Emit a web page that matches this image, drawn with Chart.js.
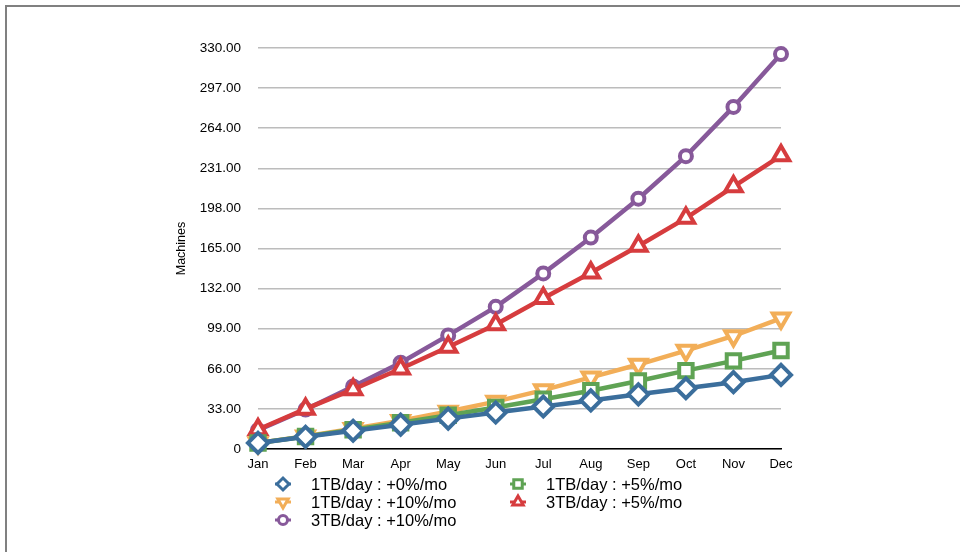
<!DOCTYPE html>
<html>
<head>
<meta charset="utf-8">
<script src="https://cdn.jsdelivr.net/npm/chart.js@4/dist/chart.umd.min.js"></script>
<style>
	html, body { margin: 0; padding: 0; background: #fff; }
	#wrap { position: relative; width: 960px; height: 552px; }
	#frame { position: absolute; left: 5px; top: 5px; right: 0; bottom: 0;
		border-top: 2px solid #808080; border-left: 2px solid #808080; }
	canvas { position: absolute; left: 0; top: 0; }
</style>
</head>
<body>
<div id="wrap">
	<div id="frame"></div>
	<canvas id="myChart" width="960" height="552"></canvas>
</div>
<script>
(() => {
	"use strict";

	const months = ["Jan", "Feb", "Mar", "Apr", "May", "Jun", "Jul", "Aug", "Sep", "Oct", "Nov", "Dec"];
	const yTicks = [0, 33, 66, 99, 132, 165, 198, 231, 264, 297, 330];

	const tb1Flat = [5, 10, 15, 20, 25, 30, 35, 40, 45, 50, 55, 61];
	const tb1Five = [5, 10.3, 15.8, 21.6, 27.7, 34.2, 41, 48, 56, 64.5, 72.5, 81];
	const tb1Ten = [5, 10.5, 16.6, 23.3, 30.8, 39, 48.5, 59, 69.5, 81, 93, 107.5];
	const tb3Five = [16, 33, 49, 66, 84, 102.5, 124, 145, 167, 190, 216, 241.5];
	const tb3Ten = [15.5, 32.5, 51.5, 71, 93.5, 117, 144.5, 174, 206, 241, 281.5, 325];

	const FONT = "'Liberation Sans', Arial, Helvetica, sans-serif";

	const mk = (label, data, color, style, radius, rotation) => ({
		label: label,
		data: data,
		borderColor: color,
		backgroundColor: "#fff",
		borderWidth: 4.5,
		pointStyle: style,
		pointRadius: radius,
		pointHoverRadius: radius,
		pointRotation: rotation || 0,
		pointBorderWidth: 4,
		pointBackgroundColor: "#fff",
		pointBorderColor: color,
		tension: 0,
		clip: false,
	});

	// legend drawn in two columns under the axis
	const legendPlugin = {
		id: "twoColLegend",
		afterDraw(chart) {
			const c = chart.ctx;
			const cols = [283, 518];
			const rows = [484, 502, 520];
			chart.data.datasets.forEach((ds, i) => {
				const x = cols[i % 2];
				const y = rows[Math.floor(i / 2)];
				c.save();
				c.strokeStyle = ds.borderColor;
				c.lineWidth = 3;
				c.beginPath();
				c.moveTo(x - 8, y);
				c.lineTo(x + 8, y);
				c.stroke();
				c.fillStyle = "#fff";
				c.lineWidth = 3;
				Chart.helpers.drawPoint(c, {
					pointStyle: ds.pointStyle,
					radius: ds.pointStyle === "circle" ? 4.5 : 6,
					rotation: ds.pointRotation,
					borderWidth: 3,
				}, x, y);
				c.fillStyle = "#000";
				c.font = "16.5px " + FONT;
				c.textBaseline = "middle";
				c.fillText(ds.label, x + 28, y + 1);
				c.restore();
			});
		},
	};

	const ctx = document.getElementById("myChart");
	// eslint-disable-next-line no-unused-vars
	const myChart = new Chart(ctx, {
		type: "line",
		data: {
			labels: months,
			datasets: [
				mk("1TB/day : +0%/mo", tb1Flat, "#3b6e9c", "rectRot", 10),
				mk("1TB/day : +5%/mo", tb1Five, "#5fa354", "rect", 9.5),
				mk("1TB/day : +10%/mo", tb1Ten, "#f2ae58", "triangle", 9.5, 180),
				mk("3TB/day : +5%/mo", tb3Five, "#d63c3e", "triangle", 9.5),
				mk("3TB/day : +10%/mo", tb3Ten, "#87599a", "circle", 6),
			],
		},
		plugins: [legendPlugin],
		options: {
			responsive: false,
			animation: false,
			events: [],
			layout: {
				padding: { left: 170, right: 179, top: 48, bottom: 78 },
			},
			plugins: {
				legend: { display: false },
				tooltip: { enabled: false },
			},
			scales: {
				x: {
					offset: false,
					grid: { display: false, drawTicks: false },
					border: { display: true, color: "#000", width: 1.5 },
					ticks: { color: "#000", padding: 8, maxRotation: 0, font: { family: FONT, size: 13 } },
					afterFit(scale) {
						scale.height = 25;
					},
				},
				y: {
					min: 0,
					max: 330,
					afterBuildTicks(scale) {
						scale.ticks = yTicks.map((v) => ({ value: v }));
					},
					grid: { color: "#bcbcbc", lineWidth: 1.5, drawTicks: false },
					border: { display: false },
					ticks: {
						color: "#000",
						padding: 17,
						font: { family: FONT, size: 13.5 },
						callback: (v) => (v === 0 ? "0" : v.toFixed(2)),
					},
					title: {
						display: true,
						text: "Machines",
						color: "#000",
						font: { family: FONT, size: 12.5 },
						padding: { top: 4, bottom: 0 },
					},
					afterFit(scale) {
						scale.width = 88;
					},
				},
			},
		},
	});
})();
</script>
</body>
</html>
